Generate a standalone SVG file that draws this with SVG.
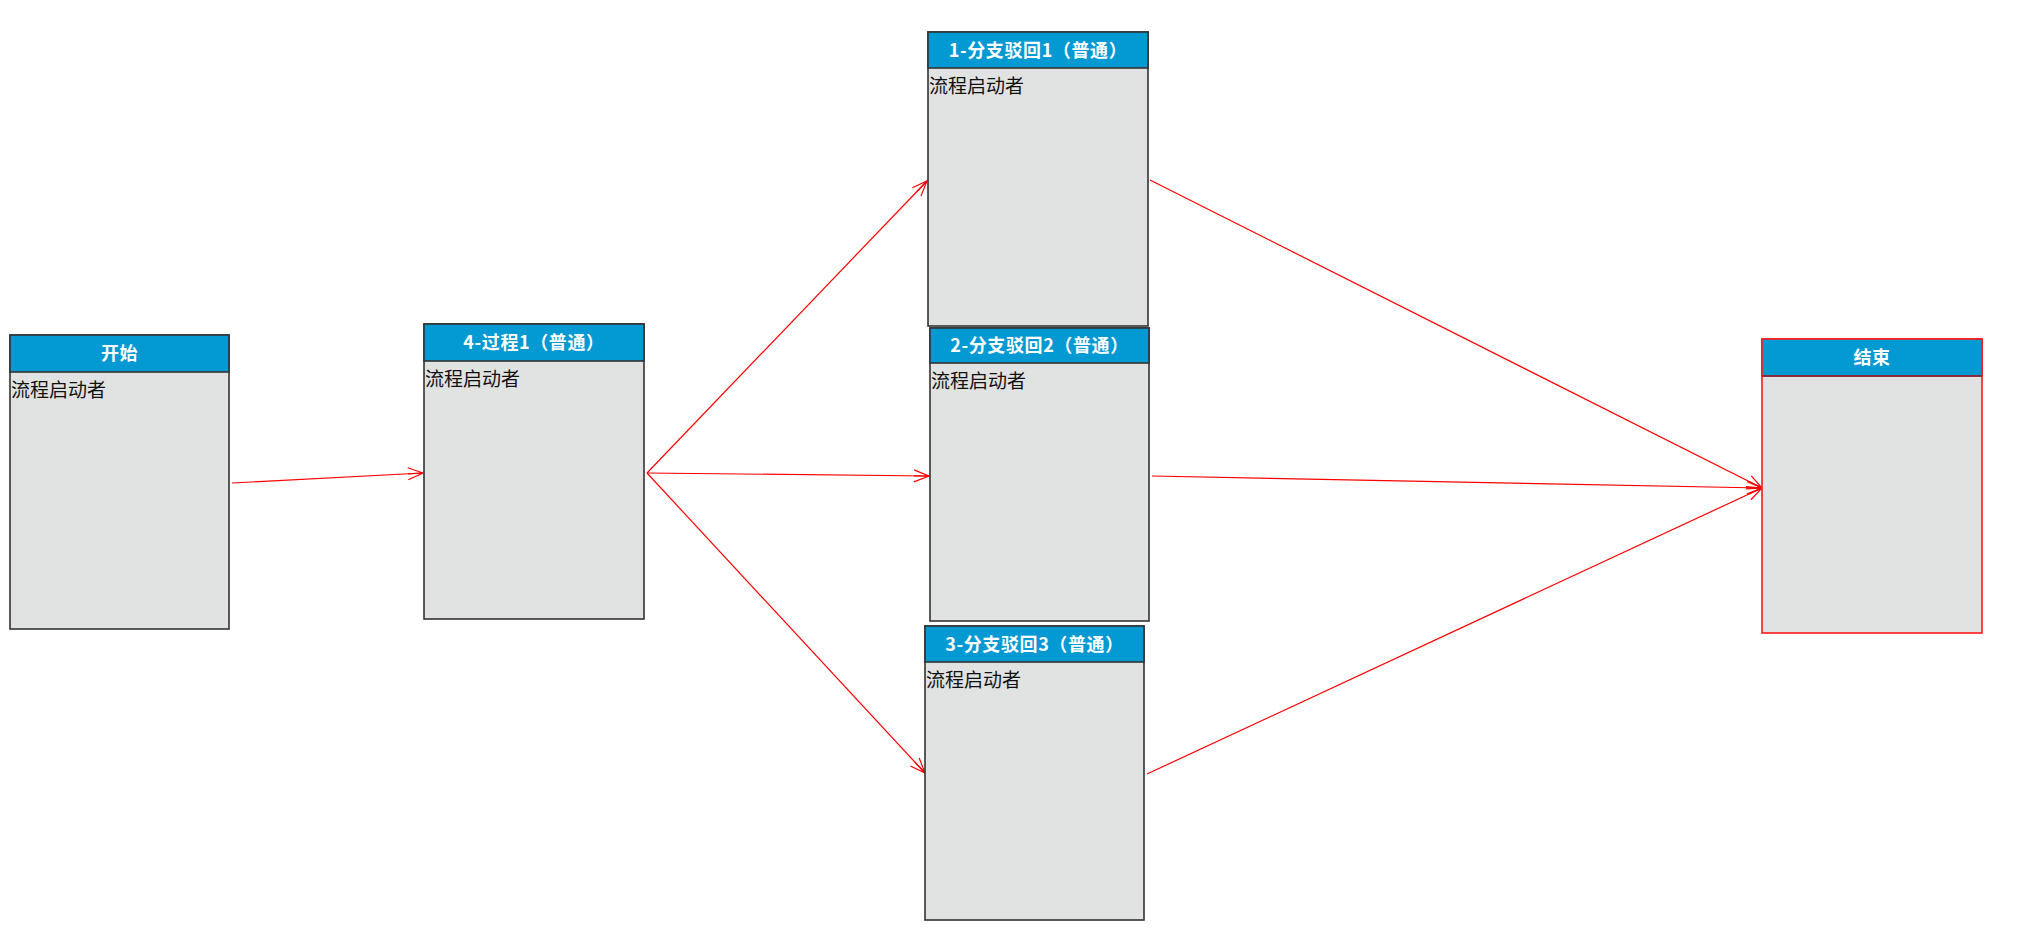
<svg xmlns="http://www.w3.org/2000/svg" width="2043" height="943" viewBox="0 0 2043 943">
<defs>
<marker id="arr" markerUnits="userSpaceOnUse" markerWidth="20" markerHeight="16" viewBox="-17 -8 20 16" refX="0" refY="0" orient="auto" overflow="visible">
<path d="M-15,-6 L0,0 L-15,6 M-15,0 L0,0" fill="none" stroke="#ff0000" stroke-width="1.2"/>
</marker>
<style>
.body{fill:#e1e2e2;stroke:#333;stroke-width:1.6}
.hdr{fill:#0399d3;stroke:#333;stroke-width:1.6}
.endbody{fill:#e1e2e2;stroke:#ff1a1a;stroke-width:1.6}
.endhdr{fill:#0399d3;stroke:#ff1a1a;stroke-width:1.6}
.title{font-family:"Noto Sans CJK SC","Noto Sans",sans-serif;font-size:18px;font-weight:bold;fill:#ffffff;text-anchor:middle;letter-spacing:0.6px}
.lbl{font-family:"Noto Sans CJK SC","Noto Sans",sans-serif;font-size:19px;fill:#111}
.conn{fill:none;stroke:#ff0000;stroke-width:1.2;marker-end:url(#arr)}
</style>
</defs>
<rect width="2043" height="943" fill="#ffffff"/>
<g id="connectors">
<line class="conn" x1="232" y1="483" x2="423" y2="473"/>
<line class="conn" x1="647" y1="473" x2="927" y2="181"/>
<line class="conn" x1="647" y1="473" x2="929" y2="476"/>
<line class="conn" x1="647" y1="473" x2="925" y2="773"/>
<line class="conn" x1="1150" y1="180" x2="1762" y2="488"/>
<line class="conn" x1="1152" y1="476" x2="1762" y2="488"/>
<line class="conn" x1="1147" y1="774" x2="1762" y2="488"/>
</g>
<g id="start">
<rect class="body" x="10" y="335" width="219" height="294"/>
<rect class="hdr" x="10" y="335" width="219" height="37"/>
<text class="title" x="119.5" y="360">开始</text>
<text class="lbl" x="11" y="397">流程启动者</text>
</g>
<g id="process1">
<rect class="body" x="424" y="324" width="220" height="295"/>
<rect class="hdr" x="424" y="324" width="220" height="37"/>
<text class="title" x="534" y="349">4-过程1（普通）</text>
<text class="lbl" x="425" y="386">流程启动者</text>
</g>
<g id="branch1">
<rect class="body" x="928" y="32" width="220" height="294"/>
<rect class="hdr" x="928" y="32" width="220" height="36"/>
<text class="title" x="1038" y="57">1-分支驳回1（普通）</text>
<text class="lbl" x="929" y="93">流程启动者</text>
</g>
<g id="branch2">
<rect class="body" x="930" y="328" width="219" height="293"/>
<rect class="hdr" x="930" y="328" width="219" height="35"/>
<text class="title" x="1039.5" y="352">2-分支驳回2（普通）</text>
<text class="lbl" x="931" y="388">流程启动者</text>
</g>
<g id="branch3">
<rect class="body" x="925" y="626" width="219" height="294"/>
<rect class="hdr" x="925" y="626" width="219" height="36"/>
<text class="title" x="1034.5" y="651">3-分支驳回3（普通）</text>
<text class="lbl" x="926" y="687">流程启动者</text>
</g>
<g id="end">
<rect class="endbody" x="1762" y="339" width="220" height="294"/>
<rect class="endhdr" x="1762" y="339" width="220" height="37"/>
<line x1="1762" y1="376" x2="1982" y2="376" stroke="#6a2a3a" stroke-width="1.6"/>
<text class="title" x="1872" y="364">结束</text>
</g>
</svg>
